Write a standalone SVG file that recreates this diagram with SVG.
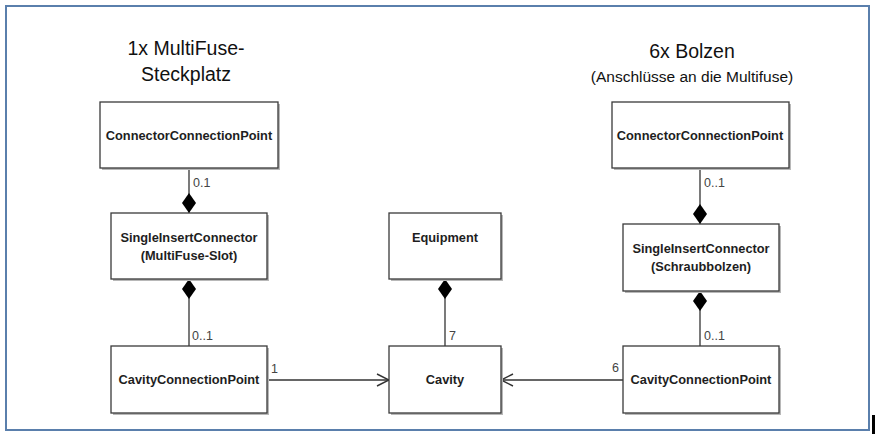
<svg xmlns="http://www.w3.org/2000/svg" width="878" height="434" viewBox="0 0 878 434">
<style>
.box{fill:#fff;stroke:#3a3a3a;stroke-width:1.3}
.sh{fill:#b8b8b8}
.t{font-family:"Liberation Sans",Arial,sans-serif;font-weight:bold;font-size:12.8px;fill:#1e1e1e;text-anchor:middle}
.lbl{font-family:"Liberation Sans",Arial,sans-serif;font-size:12.5px;fill:#444}
.title{font-family:"Liberation Sans",Arial,sans-serif;fill:#111;text-anchor:middle}
.ln{stroke:#333;stroke-width:1.3;fill:none}
</style>
<defs>
<marker id="dia" viewBox="0 0 20 14" refX="20" refY="7" markerWidth="20" markerHeight="14" markerUnits="userSpaceOnUse" orient="auto">
<path d="M0 7 L10 0 L20 7 L10 14 Z" fill="#000"/>
</marker>
<marker id="open" viewBox="0 0 14 14" refX="13" refY="7" markerWidth="14" markerHeight="14" markerUnits="userSpaceOnUse" orient="auto">
<path d="M1 1 L13 7 L1 13" fill="none" stroke="#333" stroke-width="1.4"/>
</marker>
</defs>
<rect x="0" y="0" width="878" height="434" fill="#fff"/>
<rect x="6" y="6" width="863" height="424" fill="none" stroke="#5a7fac" stroke-width="2"/>
<rect x="872" y="415" width="3" height="19" fill="#000"/>

<g id="titles">
<text class="title" x="186" y="55" font-size="19.5">1x MultiFuse-</text>
<text class="title" x="186" y="81" font-size="19.5">Steckplatz</text>
<text class="title" x="692" y="58" font-size="19.5">6x Bolzen</text>
<text class="title" x="692" y="82" font-size="15.5">(Anschlüsse an die Multifuse)</text>
</g>

<g id="connectors">
<line class="ln" x1="189" y1="168" x2="189" y2="213" marker-end="url(#dia)"/>
<text class="lbl" x="193" y="187">0.1</text>
<line class="ln" x1="189" y1="346" x2="189" y2="279" marker-end="url(#dia)"/>
<text class="lbl" x="192" y="340">0..1</text>
<line class="ln" x1="445" y1="346" x2="445" y2="279" marker-end="url(#dia)"/>
<text class="lbl" x="449" y="340">7</text>
<line class="ln" x1="700" y1="168" x2="700" y2="224" marker-end="url(#dia)"/>
<text class="lbl" x="704" y="187">0..1</text>
<line class="ln" x1="700" y1="346" x2="700" y2="291" marker-end="url(#dia)"/>
<text class="lbl" x="704" y="340">0..1</text>
<line class="ln" x1="267" y1="380" x2="389" y2="380" marker-end="url(#open)"/>
<text class="lbl" x="271" y="373">1</text>
<line class="ln" x1="623" y1="380" x2="501" y2="380" marker-end="url(#open)"/>
<text class="lbl" x="612" y="372">6</text>
</g>

<g id="ccp-left">
<rect class="sh" x="102" y="104" width="178" height="66"/>
<rect class="box" x="100" y="102" width="178" height="66"/>
<text class="t" x="189" y="140">ConnectorConnectionPoint</text>
</g>
<g id="sic-left">
<rect class="sh" x="113" y="215" width="156" height="66"/>
<rect class="box" x="111" y="213" width="156" height="66"/>
<text class="t" x="189" y="242">SingleInsertConnector</text>
<text class="t" x="189" y="260">(MultiFuse-Slot)</text>
</g>
<g id="cavcp-left">
<rect class="sh" x="113" y="348" width="156" height="67"/>
<rect class="box" x="111" y="346" width="156" height="67"/>
<text class="t" x="189" y="384">CavityConnectionPoint</text>
</g>
<g id="equipment">
<rect class="sh" x="391" y="215" width="112" height="66"/>
<rect class="box" x="389" y="213" width="112" height="66"/>
<text class="t" x="445" y="242">Equipment</text>
</g>
<g id="cavity">
<rect class="sh" x="391" y="348" width="112" height="67"/>
<rect class="box" x="389" y="346" width="112" height="67"/>
<text class="t" x="445" y="384">Cavity</text>
</g>
<g id="ccp-right">
<rect class="sh" x="614" y="104" width="177" height="66"/>
<rect class="box" x="612" y="102" width="177" height="66"/>
<text class="t" x="700" y="140">ConnectorConnectionPoint</text>
</g>
<g id="sic-right">
<rect class="sh" x="625" y="226" width="156" height="67"/>
<rect class="box" x="623" y="224" width="156" height="67"/>
<text class="t" x="701" y="253">SingleInsertConnector</text>
<text class="t" x="701" y="271">(Schraubbolzen)</text>
</g>
<g id="cavcp-right">
<rect class="sh" x="625" y="348" width="156" height="67"/>
<rect class="box" x="623" y="346" width="156" height="67"/>
<text class="t" x="701" y="384">CavityConnectionPoint</text>
</g>
</svg>
